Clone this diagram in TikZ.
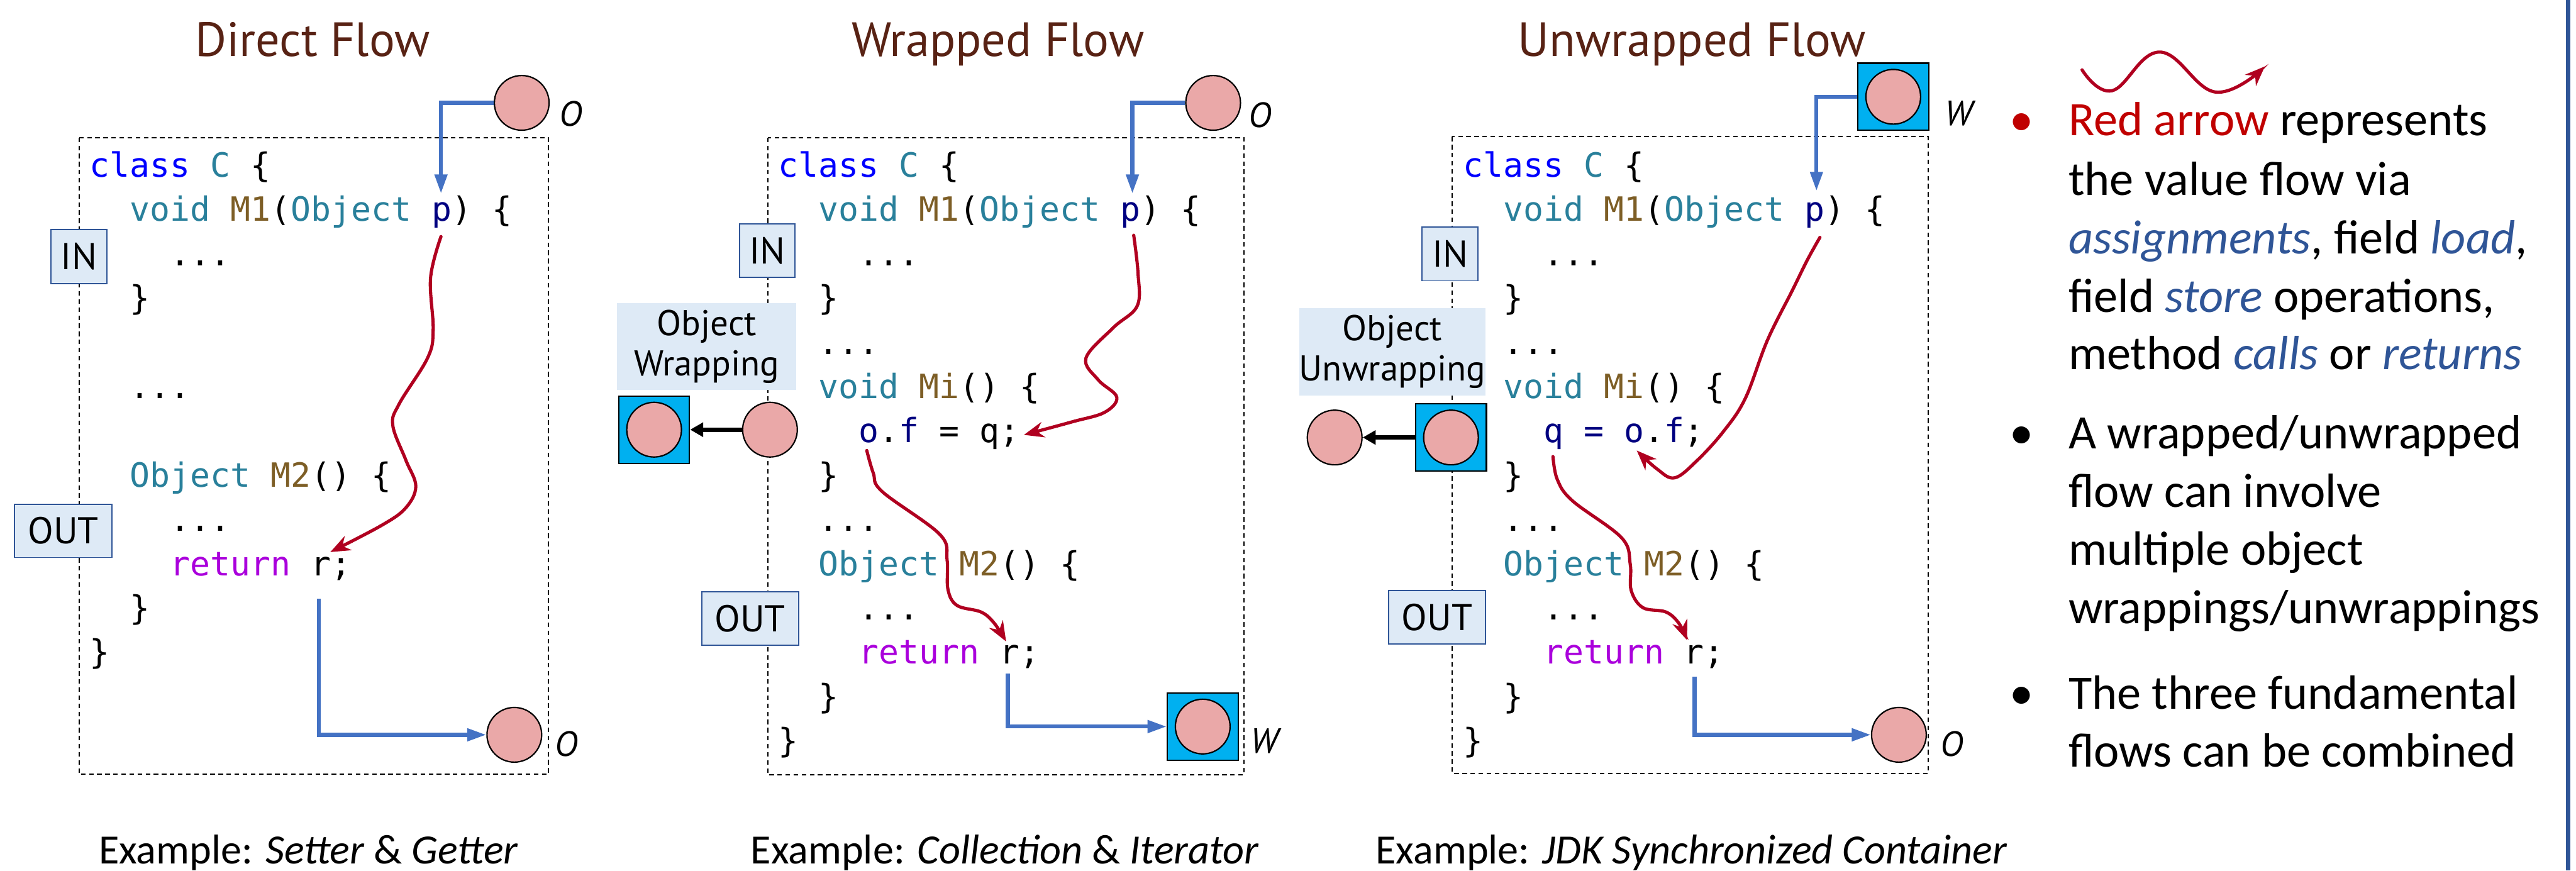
\documentclass[tikz,border=0pt]{standalone}
\usepackage{fontspec}
\setmainfont{Carlito}
\newfontfamily\gillfont{PT Sans}
\newfontfamily\codefont{DejaVu Sans Mono}
\usetikzlibrary{arrows.meta,positioning}

\definecolor{titlebrown}{RGB}{88,34,20}
\definecolor{kwblue}{RGB}{0,0,255}
\definecolor{typeteal}{RGB}{41,128,155}
\definecolor{methbrown}{RGB}{125,94,38}
\definecolor{varnavy}{RGB}{0,0,128}
\definecolor{retpurple}{RGB}{170,0,220}
\definecolor{flowred}{RGB}{176,0,32}
\definecolor{linkblue}{RGB}{68,114,196}
\definecolor{objpink}{RGB}{234,168,168}
\definecolor{wrapcyan}{RGB}{0,176,240}
\definecolor{tagfill}{RGB}{222,234,246}
\definecolor{tagline}{RGB}{47,85,151}
\definecolor{notered}{RGB}{192,0,0}
\definecolor{noteblue}{RGB}{47,85,151}

% syntax colouring for the code listings
\newcommand{\kwd}[1]{\textcolor{kwblue}{#1}}
\newcommand{\typ}[1]{\textcolor{typeteal}{#1}}
\newcommand{\mth}[1]{\textcolor{methbrown}{#1}}
\newcommand{\vname}[1]{\textcolor{varnavy}{#1}}
\newcommand{\retkw}[1]{\textcolor{retpurple}{#1}}
\newcommand{\elided}{.{}.{}.}
\newcommand{\noteit}[1]{\textcolor{noteblue}{\textit{#1}}}

\tikzset{
  flowtitle/.style={font=\gillfont\fontsize{31.5}{36}\selectfont, text=titlebrown, anchor=base, inner sep=0pt},
  frame/.style={draw=black, line width=0.8pt, dash pattern=on 3pt off 2.3pt},
  codeline/.style={font=\codefont\fontsize{21.9}{26}\selectfont, anchor=base west, inner sep=0pt},
  tag/.style={draw=tagline, fill=tagfill, line width=0.8pt, inner sep=0pt,
    font=\gillfont\fontsize{24.5}{28}\selectfont},
  wrapnote/.style={fill=tagfill, align=center, inner sep=0pt, minimum width=4.13cm, minimum height=2.01cm,
    font=\gillfont\fontsize{23.5}{26.5}\selectfont},
  objcirc/.style={circle, draw=black, fill=objpink, line width=0.9pt, minimum size=1.26cm, inner sep=0pt},
  wrapsq/.style={rectangle, draw=black, fill=wrapcyan, line width=0.9pt, minimum width=1.63cm,
    minimum height=1.55cm, inner sep=0pt,
    path picture={\filldraw[fill=objpink, draw=black, line width=0.9pt]
      (path picture bounding box.center) circle[radius=0.63cm];}},
  objlabel/.style={font=\gillfont\itshape\fontsize{23}{27}\selectfont, inner sep=0pt},
  link/.style={draw=linkblue, line width=2.6pt, -{Triangle[length=0.44cm,width=0.28cm]}},
  flow/.style={draw=flowred, line width=2.1pt, line cap=round, -{Stealth[length=0.46cm,width=0.36cm]}},
  wraparrow/.style={draw=black, line width=2.8pt, -{Triangle[length=0.3cm,width=0.32cm]}},
  caption/.style={font=\fontsize{27.3}{32}\selectfont, anchor=base west, inner sep=0pt},
  noteline/.style={font=\fontsize{31.5}{37}\selectfont, anchor=base west, inner sep=0pt},
}

\begin{document}
\begin{tikzpicture}[>=Stealth]
  \useasboundingbox (0,0) rectangle (59.35,-20.06);

  % panel titles
  \node[flowtitle] (dTitle) at (7.20,-1.30) {Direct Flow};
  \node[flowtitle] (wTitle) at (22.99,-1.30) {Wrapped Flow};
  \node[flowtitle] (uTitle) at (38.98,-1.30) {Unwrapped Flow};

  % dashed class frames
  \draw[frame] (1.82,-3.17) rectangle (12.63,-17.84);
  \draw[frame] (17.69,-3.17) rectangle (28.66,-17.85);
  \draw[frame] (33.46,-3.15) rectangle (44.43,-17.82);

  % --- direct flow ---
  \foreach \ln/\ind/\txt in {0/0/{\kwd{class} \typ{C} \{},
      1/1/{\typ{void} \mth{M1}(\typ{Object} \vname{p}) \{}, 2/2/\elided, 3/1/\}, 5/1/\elided,
      7/1/{\typ{Object} \mth{M2}() \{}, 8/2/\elided, 9/2/{\retkw{return} r;}, 10/1/\}, 11/0/\}}
    \node[codeline] (d\ln) at ({2.06+0.926*\ind},{-4.08-1.02*\ln}) {\txt};

  \node[tag, minimum width=1.29cm, minimum height=1.25cm] (dIn) at (1.82,-5.91) {IN};
  \node[tag, minimum width=2.25cm, minimum height=1.23cm] (dOut) at (1.46,-12.23) {OUT};

  \node[objcirc] (dO1) at (12.02,-2.37) {};
  \node[objlabel, right=0.21cm of dO1, yshift=-0.25cm] (dO1l) {O};
  \node[objcirc] (dO2) at (11.85,-16.93) {};
  \node[objlabel, right=0.28cm of dO2, yshift=-0.21cm] (dO2l) {O};

  \coordinate (dPin) at (10.16,-4.46);
  \coordinate (dPout) at (10.16,-5.45);
  \coordinate (dRin) at (7.61,-12.72);
  \coordinate (dRout) at (7.35,-13.80);
  \draw[link] (dO1.west) -| (dPin);
  \draw[flow] plot[smooth,tension=0.6] coordinates {(dPout) (9.92,-6.40) (9.98,-7.60) (9.85,-8.25)
    (9.20,-9.30) (9.05,-9.80) (9.35,-10.60) (9.58,-11.20) (9.35,-11.70) (8.80,-12.10) (dRin)};
  \draw[link] (dRout) |- (dO2.west);

  % --- wrapped flow ---
  \foreach \ln/\ind/\txt in {0/0/{\kwd{class} \typ{C} \{},
      1/1/{\typ{void} \mth{M1}(\typ{Object} \vname{p}) \{}, 2/2/\elided, 3/1/\}, 4/1/\elided,
      5/1/{\typ{void} \mth{Mi}() \{}, 6/2/{\vname{o}.\vname{f} = q;}, 7/1/\}, 8/1/\elided,
      9/1/{\typ{Object} \mth{M2}() \{}, 10/2/\elided, 11/2/{\retkw{return} r;}, 12/1/\}, 13/0/\}}
    \node[codeline] (w\ln) at ({17.93+0.926*\ind},{-4.08-1.02*\ln}) {\txt};

  \node[tag, minimum width=1.28cm, minimum height=1.23cm] (wIn) at (17.68,-5.78) {IN};
  \node[tag, minimum width=2.23cm, minimum height=1.23cm] (wOut) at (17.28,-14.25) {OUT};
  \node[wrapnote] (wNote) at (16.285,-7.985) {Object\\Wrapping};
  \node[wrapsq] (wBox) at (15.07,-9.90) {};
  \node[objcirc] (wObj) at (17.74,-9.90) {};
  \draw[wraparrow] (wObj) -- (wBox);

  \node[objcirc] (wO1) at (27.95,-2.37) {};
  \node[objlabel, right=0.17cm of wO1, yshift=-0.28cm] (wO1l) {O};
  \node[wrapsq] (wW2) at (27.71,-16.74) {};
  \node[objlabel, right=0.27cm of wW2, yshift=-0.33cm] (wW2l) {W};

  \coordinate (wPin) at (26.09,-4.46);
  \coordinate (wPout) at (26.12,-5.42);
  \coordinate (wQin) at (23.59,-10.02);
  \coordinate (wOout) at (19.97,-10.38);
  \coordinate (wRin) at (23.18,-14.78);
  \coordinate (wRout) at (23.22,-15.52);
  \draw[link] (wO1.west) -| (wPin);
  \draw[flow] plot[smooth,tension=0.6] coordinates {(wPout) (26.22,-6.30) (26.20,-7.05) (25.65,-7.55)
    (25.02,-8.25) (25.30,-8.75) (25.73,-9.15) (25.45,-9.50) (24.70,-9.72) (wQin)};
  \draw[flow] plot[smooth,tension=0.6] coordinates {(wOout) (20.12,-10.90) (20.33,-11.33) (21.65,-12.31)
    (21.82,-12.90) (21.84,-13.58) (22.05,-13.95) (22.60,-14.10) (22.90,-14.35) (wRin)};
  \draw[link] (wRout) |- (wW2.west);

  % --- unwrapped flow ---
  \foreach \ln/\ind/\txt in {0/0/{\kwd{class} \typ{C} \{},
      1/1/{\typ{void} \mth{M1}(\typ{Object} \vname{p}) \{}, 2/2/\elided, 3/1/\}, 4/1/\elided,
      5/1/{\typ{void} \mth{Mi}() \{}, 6/2/{\vname{q} \vname{=} \vname{o}.\vname{f};}, 7/1/\}, 8/1/\elided,
      9/1/{\typ{Object} \mth{M2}() \{}, 10/2/\elided, 11/2/{\retkw{return} r;}, 12/1/\}, 13/0/\}}
    \node[codeline] (u\ln) at ({33.70+0.926*\ind},{-4.08-1.02*\ln}) {\txt};

  \node[tag, minimum width=1.29cm, minimum height=1.24cm] (uIn) at (33.41,-5.85) {IN};
  \node[tag, minimum width=2.23cm, minimum height=1.24cm] (uOut) at (33.11,-14.22) {OUT};
  \node[wrapnote] (uNote) at (32.08,-8.105) {Object\\Unwrapping};
  \node[wrapsq] (uBox) at (33.43,-10.08) {};
  \node[objcirc] (uObj) at (30.75,-10.08) {};
  \draw[wraparrow] (uBox) -- (uObj);

  \node[wrapsq] (uW1) at (43.62,-2.23) {};
  \node[objlabel, right=0.35cm of uW1, yshift=-0.38cm] (uW1l) {W};
  \node[objcirc] (uO2) at (43.75,-16.93) {};
  \node[objlabel, right=0.30cm of uO2, yshift=-0.21cm] (uO2l) {O};

  \coordinate (uPin) at (41.85,-4.40);
  \coordinate (uPout) at (41.93,-5.47);
  \coordinate (uOin) at (37.71,-10.38);
  \coordinate (uQout) at (35.78,-10.52);
  \coordinate (uRin) at (38.87,-14.75);
  \coordinate (uRout) at (39.04,-15.59);
  \draw[link] (uW1.west) -| (uPin);
  \draw[flow] plot[smooth,tension=0.6] coordinates {(uPout) (41.64,-5.99) (41.29,-6.70) (40.72,-7.84)
    (40.21,-9.18) (39.70,-9.95) (39.09,-10.62) (38.58,-11.01) (38.17,-10.80) (uOin)};
  \draw[flow] plot[smooth,tension=0.6] coordinates {(uQout) (35.88,-11.05) (36.23,-11.54) (37.36,-12.39)
    (37.56,-13.00) (37.58,-13.60) (37.85,-14.00) (38.38,-14.10) (38.68,-14.36) (uRin)};
  \draw[link] (uRout) |- (uO2.west);

  % examples under each panel
  \node[caption] (dEx) at (2.27,-19.90) {Example: \textit{Setter} \& \textit{Getter}};
  \node[caption] (wEx) at (17.29,-19.90) {Example: \textit{Collection} \& \textit{Iterator}};
  \node[caption] (uEx) at (31.69,-19.90) {Example: \textit{JDK Synchronized Container}};

  % notes on the right
  \draw[flow] plot[smooth,tension=0.7] coordinates {(47.97,-1.61) (48.66,-2.09) (49.76,-1.20)
    (51.04,-2.12) (52.18,-1.53)};
  \node[noteline, anchor=base, text=notered] (b1) at (46.57,-3.12) {\textbullet};
  \node[noteline] (n1) at (47.65,-3.12) {\textcolor{notered}{Red arrow} represents};
  \node[noteline] (n2) at (47.65,-4.50) {the value flow via};
  \node[noteline] (n3) at (47.65,-5.84) {\noteit{assignments}, field \noteit{load},};
  \node[noteline] (n4) at (47.65,-7.19) {field \noteit{store} operations,};
  \node[noteline] (n5) at (47.65,-8.51) {method \noteit{calls} or \noteit{returns}};
  \node[noteline, anchor=base] (b2) at (46.57,-10.34) {\textbullet};
  \node[noteline] (n6) at (47.65,-10.34) {A wrapped/unwrapped};
  \node[noteline] (n7) at (47.65,-11.68) {flow can involve};
  \node[noteline] (n8) at (47.65,-13.02) {multiple object};
  \node[noteline] (n9) at (47.65,-14.36) {wrappings/unwrappings};
  \node[noteline, anchor=base] (b3) at (46.57,-16.33) {\textbullet};
  \node[noteline] (n10) at (47.65,-16.33) {The three fundamental};
  \node[noteline] (n11) at (47.65,-17.67) {flows can be combined};

  \draw[noteblue, line width=2.6pt] (59.17,0) -- (59.17,-20.06);
\end{tikzpicture}
\end{document}
